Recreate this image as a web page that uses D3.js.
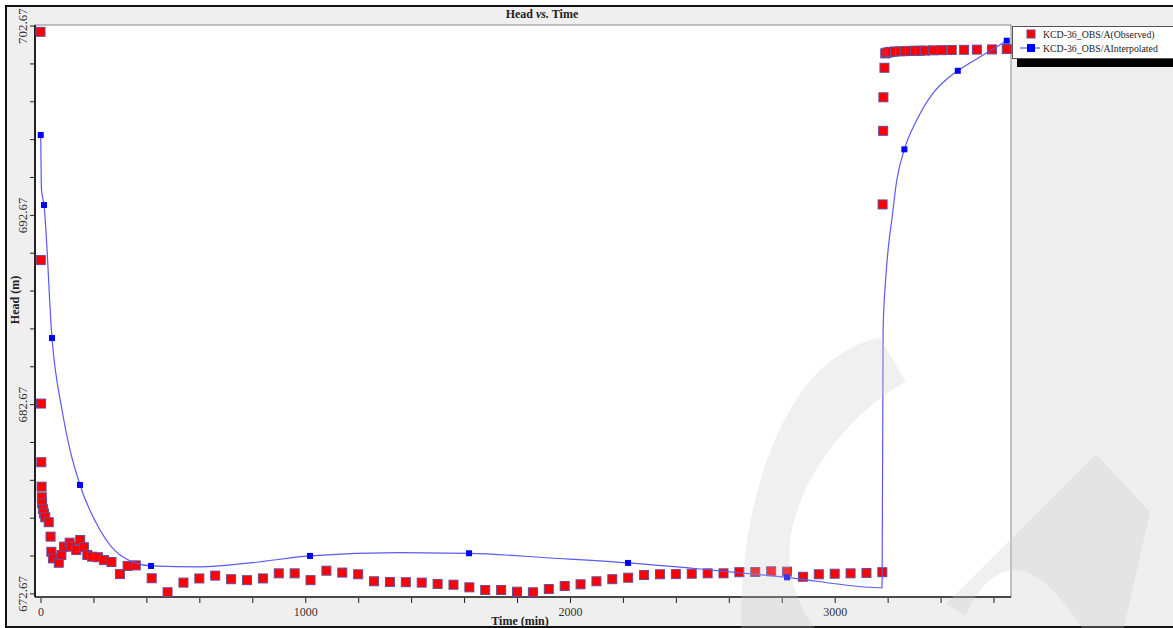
<!DOCTYPE html>
<html>
<head>
<meta charset="utf-8">
<script src="https://cdn.jsdelivr.net/npm/d3@7/dist/d3.min.js"></script>
<style>
  html, body { margin: 0; padding: 0; background: #ffffff; }
  svg { display: block; }
  text { font-family: "Liberation Serif", "Times New Roman", serif; }
</style>
</head>
<body>
<svg id="chart" width="1173" height="628"></svg>
<script>
// Observed drawdown/recovery record at KCD-36_OBS/A
const obsTime = [0, 1, 2, 3, 4, 5, 6, 9, 13, 18, 31, 38, 41, 47, 69, 79, 89, 110, 116, 135,
  150, 164, 177, 195, 217, 240, 268, 300, 329, 360,
  420, 480, 540, 600, 660, 720, 780, 840, 900, 960, 1020, 1080, 1140, 1200, 1260, 1320,
  1380, 1440, 1500, 1560, 1620, 1680, 1740, 1800, 1860, 1920, 1980, 2040, 2100, 2160,
  2220, 2280, 2340, 2400, 2460, 2520, 2580, 2640, 2700, 2760, 2820, 2880, 2940, 3000,
  3060, 3120, 3180,
  3181, 3183, 3184, 3188, 3191, 3195, 3202, 3209, 3216, 3228, 3247, 3266, 3285, 3304,
  3322, 3341, 3371, 3405, 3442, 3489, 3537, 3594, 3650];
const obsHead = [702.34, 690.28, 682.70, 679.60, 678.31, 677.75, 677.43, 677.13, 676.90, 676.69,
  676.43, 675.67, 674.87, 674.52, 674.29, 674.70, 675.14, 675.35, 675.14, 674.96,
  675.49, 675.11, 674.70, 674.61, 674.58, 674.43, 674.33, 673.69, 674.12, 674.15,
  673.47, 672.73, 673.24, 673.46, 673.61, 673.42, 673.37, 673.46, 673.73, 673.73, 673.37,
  673.87, 673.77, 673.68, 673.31, 673.27, 673.26, 673.24, 673.17, 673.13, 672.99, 672.85,
  672.85, 672.76, 672.73, 672.90, 673.06, 673.15, 673.31, 673.42, 673.50, 673.64, 673.68,
  673.69, 673.71, 673.73, 673.73, 673.79, 673.80, 673.84, 673.82, 673.55, 673.68, 673.71,
  673.73, 673.75, 673.79,
  693.22, 697.11, 698.88, 700.44, 701.20, 701.23, 701.25, 701.27, 701.28, 701.30, 701.31,
  701.32, 701.33, 701.34, 701.34, 701.35, 701.36, 701.37, 701.38, 701.39, 701.40, 701.41, 701.43];

// Interpolated head curve and the vertices that carry a marker
const interpTime = [0.8, 3.8, 13.2, 43.4, 81.2, 111.4, 149.2, 224.8, 300.3, 417.5, 602.6, 791.5,
  1018.1, 1358, 1618.8, 1925, 2219.5, 2491, 2820, 3179, 3182.9, 3192.3, 3203.6, 3215.7,
  3234.6, 3263.3, 3310.2, 3371.7, 3428.4, 3465, 3560.6, 3650];
const interpHead = [696.89, 693.98, 693.19, 686.16, 682.36, 680.25, 678.40, 676.02, 674.70, 674.12,
  674.07, 674.28, 674.65, 674.82, 674.79, 674.54, 674.28, 673.96, 673.52, 672.97, 686.58,
  689.23, 691.07, 692.40, 694.51, 696.13, 697.68, 699.10, 699.90, 700.28, 701.11, 701.87];
const interpMarkers = [0, 2, 3, 6, 9, 12, 14, 16, 18, 25, 29, 31];

// Axis ticks
const xTickValues = d3.range(0, 3601, 200);
const xTickLabels = ["0", "1000", "2000", "3000"];
const yTickValues = d3.range(0, 16).map(i => +(672.67 + 2 * i).toFixed(2));
const yTickLabels = ["672.67", "682.67", "692.67", "702.67"];

const seriesNames = ["KCD-36_OBS/A(Observed)", "KCD-36_OBS/AInterpolated"];

const svg = d3.select("#chart");
const plot = { left: 35, right: 1011, top: 25, bottom: 597 };

// panel background and frame
svg.append("rect").attr("x", 6).attr("y", 6).attr("width", 1180).attr("height", 621)
  .attr("fill", "#efefef").attr("stroke", "#111").attr("stroke-width", 2);
svg.append("rect").attr("x", plot.left).attr("y", plot.top)
  .attr("width", plot.right - plot.left).attr("height", plot.bottom - plot.top)
  .attr("fill", "#ffffff").attr("stroke", "#8a8a8a").attr("stroke-width", 1);

const x = d3.scaleLinear().domain([-20.8, 3666]).range([plot.left, plot.right]);
const y = d3.scaleLinear().domain([672.48, 702.70]).range([plot.bottom, plot.top]);

// x axis
const xAxis = d3.axisBottom(x).tickValues(xTickValues)
  .tickFormat(d => xTickLabels.includes(String(d)) ? String(d) : "")
  .tickSizeOuter(0).tickSize(5).tickPadding(4);
const gx = svg.append("g").attr("transform", `translate(0,${plot.bottom + 1})`).call(xAxis);
gx.select(".domain").remove();
gx.selectAll(".tick line").attr("stroke", "#222");
gx.selectAll(".tick text").attr("font-size", 12).attr("fill", "#333")
  .attr("font-family", "Liberation Serif, serif");
svg.append("line").attr("x1", plot.left).attr("x2", plot.right)
  .attr("y1", plot.bottom).attr("y2", plot.bottom).attr("stroke", "#222").attr("stroke-width", 1.5);

// y axis
const yAxis = d3.axisLeft(y).tickValues(yTickValues)
  .tickFormat(d => yTickLabels.includes(d.toFixed(2)) ? d.toFixed(2) : "")
  .tickSizeOuter(0).tickSize(4).tickPadding(3);
const gy = svg.append("g").attr("transform", `translate(${plot.left - 1},0)`).call(yAxis);
gy.select(".domain").remove();
gy.selectAll(".tick line").attr("stroke", "#222");
gy.selectAll(".tick text").attr("font-size", 13).attr("fill", "#333")
  .attr("font-family", "Liberation Serif, serif")
  .attr("text-anchor", "middle").attr("x", null)
  .attr("transform", "translate(-12,0) rotate(-90)").attr("dy", "0.35em");
svg.append("line").attr("x1", plot.left).attr("x2", plot.left)
  .attr("y1", plot.top).attr("y2", plot.bottom).attr("stroke", "#222").attr("stroke-width", 2);

// titles
const title = svg.append("text").attr("x", 542).attr("y", 18).attr("text-anchor", "middle")
  .attr("font-size", 12).attr("font-weight", "bold").attr("fill", "#222");
title.append("tspan").text("Head ");
title.append("tspan").attr("font-style", "italic").text("vs.");
title.append("tspan").text(" Time");
svg.append("text").attr("x", 520).attr("y", 625).attr("text-anchor", "middle")
  .attr("font-size", 12).attr("font-weight", "bold").attr("fill", "#222").text("Time (min)");
svg.append("text").attr("transform", "translate(19,300) rotate(-90)").attr("text-anchor", "middle")
  .attr("font-size", 12).attr("font-weight", "bold").attr("fill", "#222").text("Head (m)");

// observed heads
const obs = obsTime.map((t, i) => ({ t, h: obsHead[i] }));
const rs = 9;
svg.append("g").selectAll("rect").data(obs).join("rect")
  .attr("x", d => x(d.t) - rs / 2).attr("y", d => y(d.h) - rs / 2)
  .attr("width", rs).attr("height", rs)
  .attr("fill", "#ff0000").attr("stroke", "#6a4a9c").attr("stroke-width", 1);

// interpolated curve
const interp = interpTime.map((t, i) => ({ t, h: interpHead[i] }));
const line = d3.line().x(d => x(d.t)).y(d => y(d.h)).curve(d3.curveMonotoneX);
svg.append("path").datum(interp).attr("d", line)
  .attr("fill", "none").attr("stroke", "#5a5af0").attr("stroke-width", 1.2);
const bs = 6;
svg.append("g").selectAll("rect").data(interpMarkers.map(i => interp[i])).join("rect")
  .attr("x", d => x(d.t) - bs / 2).attr("y", d => y(d.h) - bs / 2)
  .attr("width", bs).attr("height", bs).attr("fill", "#0000ff");

// legend
const lg = svg.append("g");
lg.append("rect").attr("x", 1017).attr("y", 32).attr("width", 170).attr("height", 35).attr("fill", "#000");
lg.append("rect").attr("x", 1012.5).attr("y", 26.5).attr("width", 170).attr("height", 32)
  .attr("fill", "#ffffff").attr("stroke", "#555").attr("stroke-width", 1);
lg.append("rect").attr("x", 1027).attr("y", 30).attr("width", 8).attr("height", 8)
  .attr("fill", "#ff0000").attr("stroke", "#6a4a9c");
lg.append("line").attr("x1", 1020).attr("x2", 1040).attr("y1", 48).attr("y2", 48)
  .attr("stroke", "#5a5af0").attr("stroke-width", 1.2);
lg.append("rect").attr("x", 1027).attr("y", 44).attr("width", 8).attr("height", 8).attr("fill", "#0000ff");
lg.selectAll("text.lab").data(seriesNames).join("text").attr("class", "lab")
  .attr("x", 1043).attr("y", (d, i) => 38 + i * 14)
  .attr("font-size", 9.8).attr("fill", "#222").text(d => d);

// faint logo mark in the lower right
const wm = svg.append("g").attr("fill", "rgba(200,200,200,0.27)");
wm.append("path").attr("d",
  "M741,628 C740,520 770,420 820,370 C845,348 865,340 880,338 L906,382 " +
  "C860,405 800,470 790,540 C786,575 800,610 815,628 Z");
wm.append("path").attr("d",
  "M946,604 L1096,454 L1150,512 L1124,628 L1082,628 " +
  "C1062,596 1036,568 1012,570 C992,573 976,590 966,616 Z");
</script>
</body>
</html>
